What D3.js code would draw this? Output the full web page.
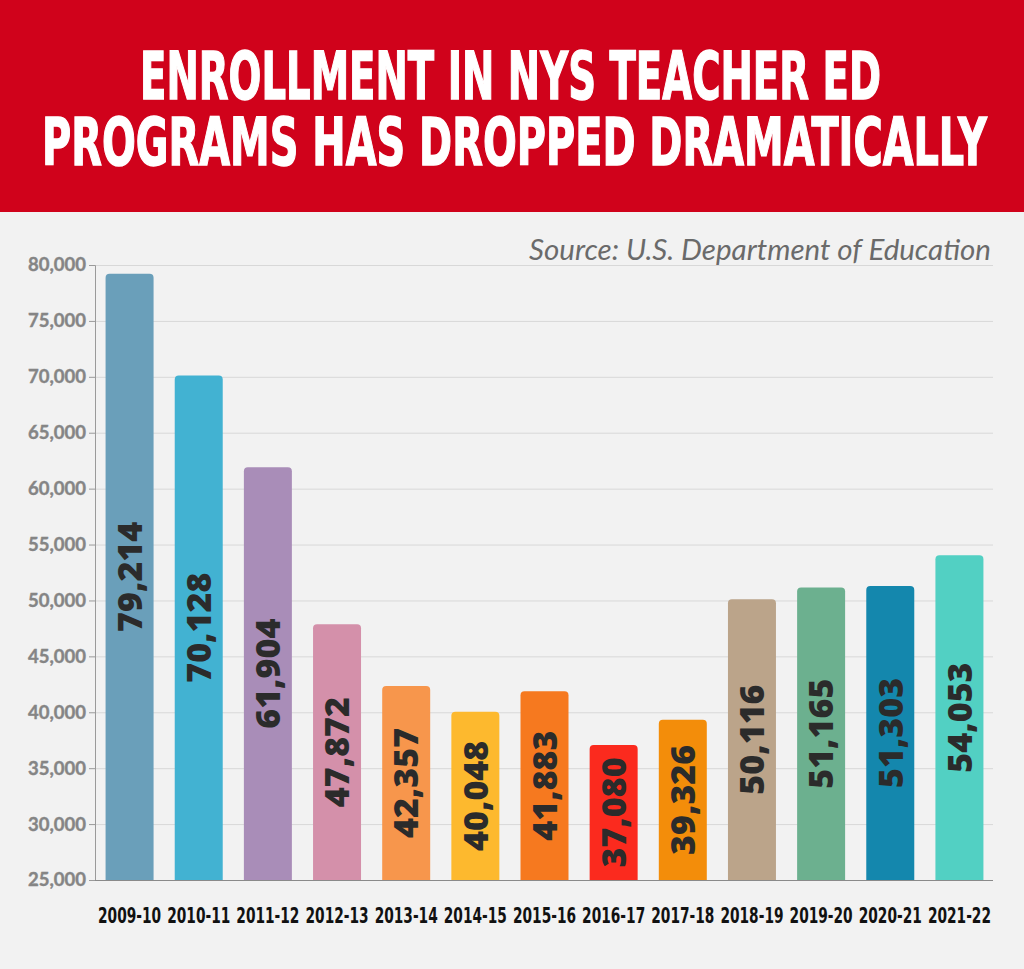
<!DOCTYPE html>
<html>
<head>
<meta charset="utf-8">
<script src="https://cdn.jsdelivr.net/npm/d3@7"></script>
<style>
  html, body { margin: 0; padding: 0; background: #f2f2f2; }
  svg { display: block; }
</style>
</head>
<body>
<svg id="chart" width="1024" height="969"></svg>
<script>
const categories = ["2009-10","2010-11","2011-12","2012-13","2013-14","2014-15","2015-16","2016-17","2017-18","2018-19","2019-20","2020-21","2021-22"];
const enrollment = [79214, 70128, 61904, 47872, 42357, 40048, 41883, 37080, 39326, 50116, 51165, 51303, 54053];
const barColors = ["#6a9fba","#42b2d2","#a98db8","#d490aa","#f7964c","#fdb92e","#f6791f","#fb2a1e","#f38d0a","#bba48a","#6cb08f","#1487ad","#52d0c3"];
const yTicks = [25000, 30000, 35000, 40000, 45000, 50000, 55000, 60000, 65000, 70000, 75000, 80000];
const titleLines = ["ENROLLMENT IN NYS TEACHER ED", "PROGRAMS HAS DROPPED DRAMATICALLY"];
const sourceText = "Source: U.S. Department of Education";

const svg = d3.select("#chart");
const W = 1024, H = 969;

svg.append("rect").attr("width", W).attr("height", H).attr("fill", "#f2f2f2");

// Banner
svg.append("rect").attr("x", 0).attr("y", 0).attr("width", W).attr("height", 212).attr("fill", "#d0021b");

// Fit a text horizontally into a target width by scaling (keeps glyph height)
function fitX(sel, cx, targetW) {
  const node = sel.node();
  const w = node.getComputedTextLength();
  const sx = targetW / w;
  sel.attr("x", 0).attr("text-anchor", "middle")
     .attr("transform", `translate(${cx},${sel.attr("data-y")}) scale(${sx},1)`)
     .attr("y", 0);
}

const titleSpecs = [{x0: 140, x1: 881, base: 99}, {x0: 42, x1: 987, base: 165}];
titleLines.forEach((t, i) => {
  const s = titleSpecs[i];
  const tx = svg.append("text")
    .attr("data-y", s.base)
    .attr("font-family", "'DejaVu Sans', sans-serif")
    .attr("font-weight", "bold")
    .attr("font-size", 65)
    .attr("fill", "#ffffff")
    .attr("stroke", "#ffffff")
    .attr("stroke-width", 1.5)
    .text(t);
  fitX(tx, (s.x0 + s.x1) / 2, s.x1 - s.x0);
});

const margin = {left: 95, right: 994, top: 265, bottom: 880};

const x = d3.scaleBand().domain(categories).range([margin.left, margin.right]).paddingInner(0.306).paddingOuter(0.153);
const y = d3.scaleLinear().domain([25000, 80000]).range([margin.bottom, margin.top]);

// gridlines
svg.append("g").selectAll("line").data(yTicks.filter(d => d > 25000)).join("line")
  .attr("x1", margin.left).attr("x2", 993)
  .attr("y1", d => y(d) + 0.5).attr("y2", d => y(d) + 0.5)
  .attr("stroke", "#d8d8d8").attr("stroke-width", 1);

// Source
svg.append("text")
  .attr("x", 991).attr("y", 260)
  .attr("text-anchor", "end")
  .attr("font-family", "Lato, sans-serif")
  .attr("font-style", "italic")
  .attr("font-size", 29.5)
  .attr("fill", "#6a6a6a")
  .text(sourceText);

// y axis
const yAxis = d3.axisLeft(y).tickValues(yTicks).tickSize(6).tickPadding(3).tickFormat(d3.format(","));
const yg = svg.append("g").attr("transform", `translate(${margin.left},0)`).call(yAxis);
yg.select(".domain").attr("stroke", "#9a9a9a");
yg.selectAll(".tick line").attr("stroke", "#9a9a9a");
yg.selectAll(".tick text")
  .attr("font-family", "Lato, sans-serif")
  .attr("font-weight", "bold")
  .attr("font-size", 18.5)
  .attr("fill", "#858585")
  .attr("stroke", "#858585")
  .attr("stroke-width", 0.4);

// bars with rounded top
const r = 4;
svg.append("g").selectAll("path").data(categories).join("path")
  .attr("d", (c, i) => {
    const x0 = x(c), w = x.bandwidth(), yt = y(enrollment[i]), yb = y(25000);
    return `M${x0},${yb}V${yt + r}Q${x0},${yt} ${x0 + r},${yt}H${x0 + w - r}Q${x0 + w},${yt} ${x0 + w},${yt + r}V${yb}Z`;
  })
  .attr("fill", (c, i) => barColors[i]);

// baseline
svg.append("line").attr("x1", margin.left).attr("x2", 993)
  .attr("y1", y(25000) + 0.5).attr("y2", y(25000) + 0.5)
  .attr("stroke", "#8a8a8a").attr("stroke-width", 1.2);

// value labels
const fmt = d3.format(",");
svg.append("g").selectAll("text").data(categories).join("text")
  .attr("transform", (c, i) => {
    const cx = x(c) + x.bandwidth() / 2;
    const cy = (y(enrollment[i]) + y(25000)) / 2;
    return `translate(${cx},${cy}) rotate(-90)`;
  })
  .attr("text-anchor", "middle")
  .attr("dy", "0.36em")
  .attr("font-family", "'Open Sans', sans-serif")
  .attr("font-weight", 800)
  .attr("font-size", 34)
  .attr("fill", "#2b2b2b")
  .text((c, i) => fmt(enrollment[i]));

// x labels (condensed look via horizontal scaling)
const xl = svg.append("g").selectAll("text").data(categories).join("text")
  .attr("font-family", "'DejaVu Sans', sans-serif")
  .attr("font-weight", "bold")
  .attr("font-size", 21.5)
  .attr("fill", "#111111")
  .attr("text-anchor", "middle")
  .text(c => c);
xl.each(function(c) {
  const t = d3.select(this);
  t.attr("transform", `translate(${x(c) + x.bandwidth() / 2},923) scale(0.64,1)`);
});
</script>
</body>
</html>
